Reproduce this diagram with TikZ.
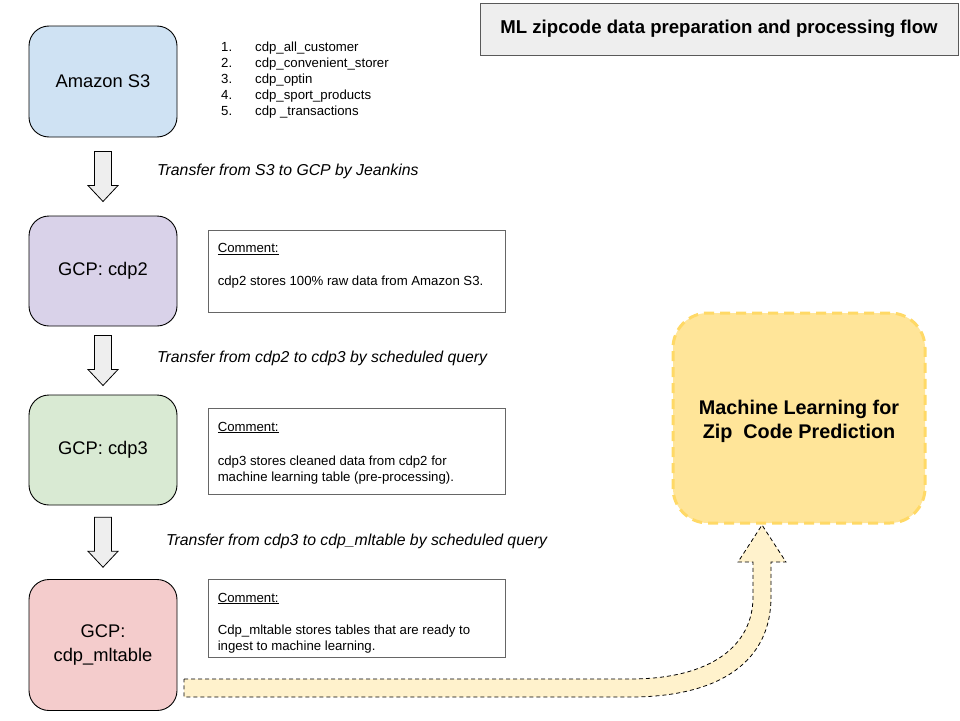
\documentclass[tikz,border=0pt]{standalone}
\usepackage{fontspec}
\setmainfont{Liberation Sans}
\usetikzlibrary{calc}
\definecolor{s3c}{HTML}{CFE2F3}
\definecolor{cdptwo}{HTML}{D9D2E9}
\definecolor{cdpthree}{HTML}{D9EAD3}
\definecolor{mltc}{HTML}{F4CCCC}
\definecolor{titlec}{HTML}{EEEEEE}
\definecolor{titleline}{HTML}{595959}
\definecolor{mlfill}{HTML}{FFE599}
\definecolor{mlline}{HTML}{FFD966}
\definecolor{bandc}{HTML}{FFF2CC}
\definecolor{arrowc}{HTML}{EEEEEE}
\definecolor{commentline}{HTML}{666666}
\newcommand\fsz[2]{\fontsize{#1}{#2}\selectfont}
\tikzset{
  procbox/.style={draw=black, line width=0.9pt, rounded corners=20pt, minimum width=148pt, align=center, font=\fsz{18.3}{24}},
  commentbox/.style={draw=commentline, line width=0.9pt, minimum width=297pt},
  smalltext/.style={font=\fsz{13.2}{16}, inner sep=0pt, align=left},
  transfer/.style={font=\fsz{15.8}{18}\itshape, inner sep=0pt, anchor=west},
  blockarrow/.style={draw=black, fill=arrowc, line width=0.8pt},
  band/.style={draw=black, fill=bandc, line width=0.8pt, dash pattern=on 4pt off 3pt},
  dnarrow/.pic={\draw[blockarrow] (-8.5,-25) -- (8.5,-25) -- (8.5,9) -- (15,9) -- (0,25) -- (-15,9) -- (-8.5,9) -- cycle;}
}
\begin{document}
\begin{tikzpicture}[x=1pt,y=-1pt]
\useasboundingbox (0,0) rectangle (960,720);

% title
\node[draw=titleline, fill=titlec, line width=0.9pt, minimum width=478pt, minimum height=52pt,
      font=\fsz{18.6}{22}\bfseries] (title) at (719,29) {ML zipcode data preparation and processing flow};

% process boxes
\node[procbox, fill=s3c, minimum height=111pt] (s3) at (103,81.5) {Amazon S3};
\node[procbox, fill=cdptwo, minimum height=110pt] (cdp2) at (103,271) {GCP: cdp2};
\node[procbox, fill=cdpthree, minimum height=110pt] (cdp3) at (103,450) {GCP: cdp3};
\node[procbox, fill=mltc, minimum height=131pt] (mlt) at (103,645) {GCP:\\cdp\_mltable};

% table list
\node[smalltext, anchor=north west] (list) at (221,40.5) {%
\begin{tabular}{@{}p{34pt}@{}l@{}}
1. & cdp\_all\_customer\\
2. & cdp\_convenient\_storer\\
3. & cdp\_optin\\
4. & cdp\_sport\_products\\
5. & cdp \_transactions
\end{tabular}};

% block arrows
\pic at ($(s3.south)!0.5!(cdp2.north)$) {dnarrow};
\pic at ($(cdp2.south)!0.5!(cdp3.north)$) {dnarrow};
\pic at ($(cdp3.south)!0.5!(mlt.north)$) {dnarrow};

% transfer labels
\node[transfer] (t1) at (157,171.5) {Transfer from S3 to GCP by Jeankins};
\node[transfer] (t2) at (157,358.5) {Transfer from cdp2 to cdp3 by scheduled query};
\node[transfer] (t3) at (166,541.5) {Transfer from cdp3 to cdp\_mltable by scheduled query};

% comment boxes
\node[commentbox, minimum height=82pt] (c1) at (356.5,271) {};
\node[smalltext, anchor=west] (c1h) at ($(c1.north west)+(10,19.5)$) {\underline{Comment:}};
\node[smalltext, anchor=west] (c1t) at ($(c1.north west)+(10,53)$) {cdp2 stores 100\% raw data from Amazon S3.};

\node[commentbox, minimum height=86pt] (c2) at (356.5,451) {};
\node[smalltext, anchor=west] (c2h) at ($(c2.north west)+(10,20)$) {\underline{Comment:}};
\node[smalltext, anchor=west] (c2t) at ($(c2.north west)+(10,63)$) {cdp3 stores cleaned data from cdp2 for\\machine learning table (pre-processing).};

\node[commentbox, minimum height=78pt] (c3) at (356.5,618) {};
\node[smalltext, anchor=west] (c3h) at ($(c3.north west)+(10,20)$) {\underline{Comment:}};
\node[smalltext, anchor=west] (c3t) at ($(c3.north west)+(10,61)$) {Cdp\_mltable stores tables that are ready to\\ingest to machine learning.};

% ML box
\node[draw=mlline, fill=mlfill, line width=3pt, dash pattern=on 10pt off 6pt, rounded corners=35pt,
      minimum width=252pt, minimum height=210pt] (ml) at (799,418) {};
\node[align=center, inner sep=0pt, font=\fsz{19.8}{24}\bfseries] (mltext) at ($(ml.center)+(0,3.5)$)
      {Machine Learning for\\Zip\ \ Code Prediction};

% curved fat arrow from cdp_mltable to ML box
\draw[band] (184,679) -- (630,679) .. controls (712,679) and (753,645) .. (753,597) -- (753,562) -- (738,562)
  -- (762,525) -- (786,562) -- (771,562) -- (771,597) .. controls (771,660) and (722,697) .. (630,697) -- (184,697) -- cycle;
\end{tikzpicture}
\end{document}
